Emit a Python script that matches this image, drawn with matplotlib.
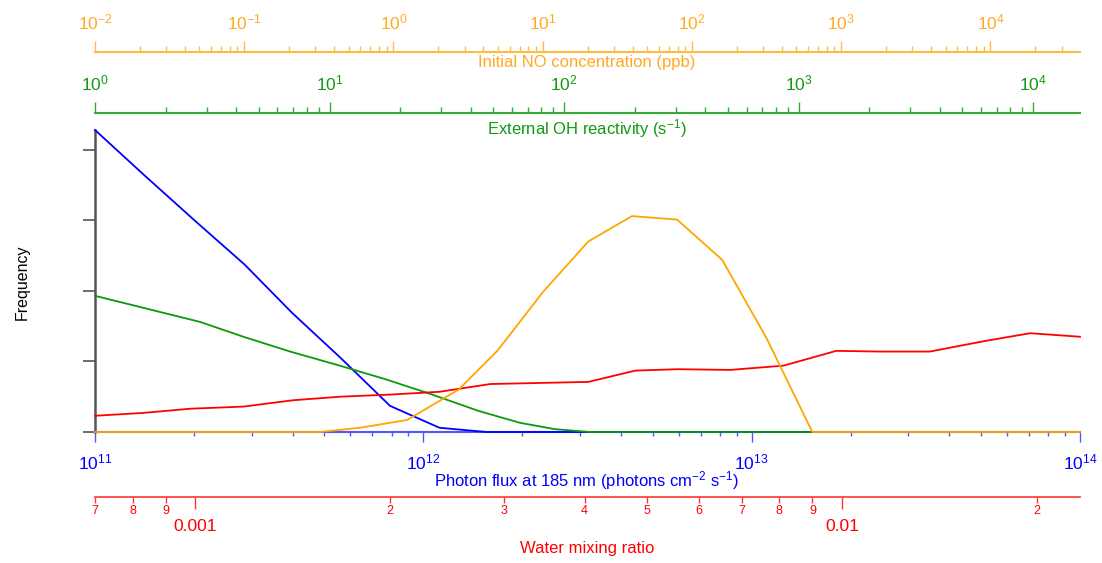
import matplotlib
matplotlib.use("Agg")
import matplotlib.pyplot as plt
from matplotlib.ticker import FixedLocator, FixedFormatter, NullFormatter, LogLocator

plt.rcParams['font.family'] = ['Liberation Sans', 'DejaVu Sans']
plt.rcParams['mathtext.fontset'] = 'custom'
plt.rcParams['mathtext.rm'] = 'Liberation Sans'
plt.rcParams['mathtext.it'] = 'Liberation Sans:italic'
plt.rcParams['mathtext.default'] = 'regular'

# histograms, all placed on the photon-flux scale of the host axis
blue_x = [1.00e11, 1.42e11, 2.02e11, 2.86e11, 3.98e11, 5.57e11, 7.92e11, 1.12e12,
          1.56e12, 1.00e14]
blue_y = [4.28, 3.63, 2.99, 2.37, 1.69, 1.06, 0.37, 0.06, 0.0, 0.0]

green_x = [1.00e11, 2.09e11, 2.83e11, 3.93e11, 5.57e11, 7.64e11, 1.05e12, 1.47e12,
           1.97e12, 2.52e12, 3.22e12, 1.00e14]
green_y = [1.93, 1.56, 1.35, 1.14, 0.94, 0.75, 0.54, 0.30, 0.13, 0.04, 0.0, 0.0]

red_x = [1.00e11, 1.40e11, 1.95e11, 2.83e11, 4.01e11, 5.57e11, 7.92e11, 1.12e12,
         1.60e12, 3.18e12, 4.42e12, 5.93e12, 8.60e12, 1.25e13, 1.81e13, 2.46e13,
         3.49e13, 5.14e13, 7.05e13, 1.00e14]
red_y = [0.23, 0.27, 0.33, 0.36, 0.45, 0.50, 0.53, 0.57, 0.68, 0.71, 0.87, 0.89,
         0.88, 0.94, 1.15, 1.14, 1.14, 1.29, 1.40, 1.35]

orange_x = [1.00e11, 4.84e11, 6.41e11, 8.92e11, 1.28e12, 1.68e12, 2.32e12, 3.18e12,
            4.32e12, 5.93e12, 8.13e12, 1.11e13, 1.53e13, 1.00e14]
orange_y = [0.0, 0.0, 0.06, 0.17, 0.60, 1.15, 1.99, 2.70, 3.06, 3.01, 2.44, 1.33,
            0.0, 0.0]

freq_ticks = [0, 1, 2, 3, 4]
flux_ticks = [1e11, 1e12, 1e13, 1e14]
no_ticks = [1e-2, 1e-1, 1e0, 1e1, 1e2, 1e3, 1e4]
oh_ticks = [1e0, 1e1, 1e2, 1e3, 1e4]

water_major = [1e-3, 1e-2]
water_major_labels = ['0.001', '0.01']
water_minor = [7e-4, 8e-4, 9e-4, 2e-3, 3e-3, 4e-3, 5e-3, 6e-3, 7e-3, 8e-3, 9e-3, 2e-2]
water_minor_labels = ['7', '8', '9', '2', '3', '4', '5', '6', '7', '8', '9', '2']

c_blue, c_green, c_red, c_orange = '#0000ff', '#0a9a0a', '#ff0000', '#ffa500'
W, H = 1102, 563


def fx(px):
    return px / W


def fy(py):
    return 1 - py / H


fig = plt.figure(figsize=(W / 100, H / 100), dpi=100)

# main frame
ax = fig.add_axes([fx(95), fy(432), fx(985), (432 - 130) / H])
for xs, ys, c in ((blue_x, blue_y, c_blue), (green_x, green_y, c_green),
                  (red_x, red_y, c_red), (orange_x, orange_y, c_orange)):
    ax.plot(xs, ys, color=c, lw=1.3, zorder=3, clip_on=False)
ax.set_xscale('log')
ax.set_xlim(1e11, 1e14)
ax.set_ylim(0, 4.28)
for s in ('top', 'right'):
    ax.spines[s].set_visible(False)
ax.spines['left'].set_color('#555555')
ax.spines['left'].set_linewidth(1.8)
ax.spines['bottom'].set_color('#5555ff')
ax.spines['bottom'].set_linewidth(1.5)
ax.set_yticks(freq_ticks)
ax.set_yticklabels([])
ax.tick_params(axis='y', direction='out', length=9, width=1.2, color='#555555')
ax.xaxis.set_major_locator(FixedLocator(flux_ticks))
ax.xaxis.set_minor_formatter(NullFormatter())
ax.tick_params(axis='x', which='major', direction='out', length=7.5, width=1,
               color='#5555ff', labelcolor=c_blue, labelsize=12.5, pad=7)
ax.tick_params(axis='x', which='minor', direction='out', length=3, width=1,
               color='#5555ff')
ax.patch.set_visible(False)


def top_scale(py, lo, hi, ticks, color, tcolor):
    a = fig.add_axes([fx(95), fy(py), fx(985), 0.0001])
    a.set_xscale('log')
    a.set_xlim(lo, hi)
    for s in ('bottom', 'left', 'right'):
        a.spines[s].set_visible(False)
    a.spines['top'].set_color(color)
    a.spines['top'].set_linewidth(1.5)
    a.yaxis.set_visible(False)
    a.xaxis.set_ticks_position('top')
    a.xaxis.set_major_locator(FixedLocator(ticks))
    a.xaxis.set_minor_locator(LogLocator(base=10, subs=range(2, 10), numticks=20))
    a.xaxis.set_minor_formatter(NullFormatter())
    a.tick_params(axis='x', which='major', direction='out', length=8, width=1,
                  color=color, labelcolor=tcolor, labelsize=12.5, pad=6)
    a.tick_params(axis='x', which='minor', direction='out', length=4, width=1,
                  color=color)
    a.patch.set_visible(False)
    return a


top_scale(52, 1e-2, 10 ** 4.6, no_ticks, '#ffbb44', '#ffaa22')
top_scale(113, 1, 10 ** 4.2, oh_ticks, '#33aa33', '#119911')

# water mixing ratio scale
aw = fig.add_axes([fx(95), fy(497), fx(985), 0.0001])
aw.set_xscale('log')
aw.set_xlim(7e-4, 0.02333)
for s in ('top', 'left', 'right'):
    aw.spines[s].set_visible(False)
aw.spines['bottom'].set_color('#ff3333')
aw.spines['bottom'].set_linewidth(1.2)
aw.yaxis.set_visible(False)
aw.xaxis.set_major_locator(FixedLocator(water_major))
aw.xaxis.set_major_formatter(FixedFormatter(water_major_labels))
aw.xaxis.set_minor_locator(FixedLocator(water_minor))
aw.xaxis.set_minor_formatter(FixedFormatter(water_minor_labels))
aw.tick_params(axis='x', which='major', direction='out', length=8.5, width=1,
               color='#ff3333', labelcolor=c_red, labelsize=12.5, pad=7)
aw.tick_params(axis='x', which='minor', direction='out', length=4, width=1,
               color='#ff3333', labelcolor=c_red, labelsize=9, pad=2)
aw.patch.set_visible(False)

# axis titles
fig.text(fx(22), fy(282), 'Frequency', rotation=90, ha='center', va='center',
         fontsize=11.5, color='black')
fig.text(fx(587), fy(62), 'Initial NO concentration (ppb)', ha='center',
         va='center', fontsize=12, color='#ffaa22')
fig.text(fx(587), fy(129), 'External OH reactivity (s$^{-1}$)', ha='center',
         va='center', fontsize=12, color='#119911')
fig.text(fx(587), fy(481), 'Photon flux at 185 nm (photons cm$^{-2}$ s$^{-1}$)',
         ha='center', va='center', fontsize=12, color=c_blue)
fig.text(fx(587), fy(548), 'Water mixing ratio', ha='center', va='center',
         fontsize=12, color=c_red)

fig.savefig('out.png', dpi=100)
